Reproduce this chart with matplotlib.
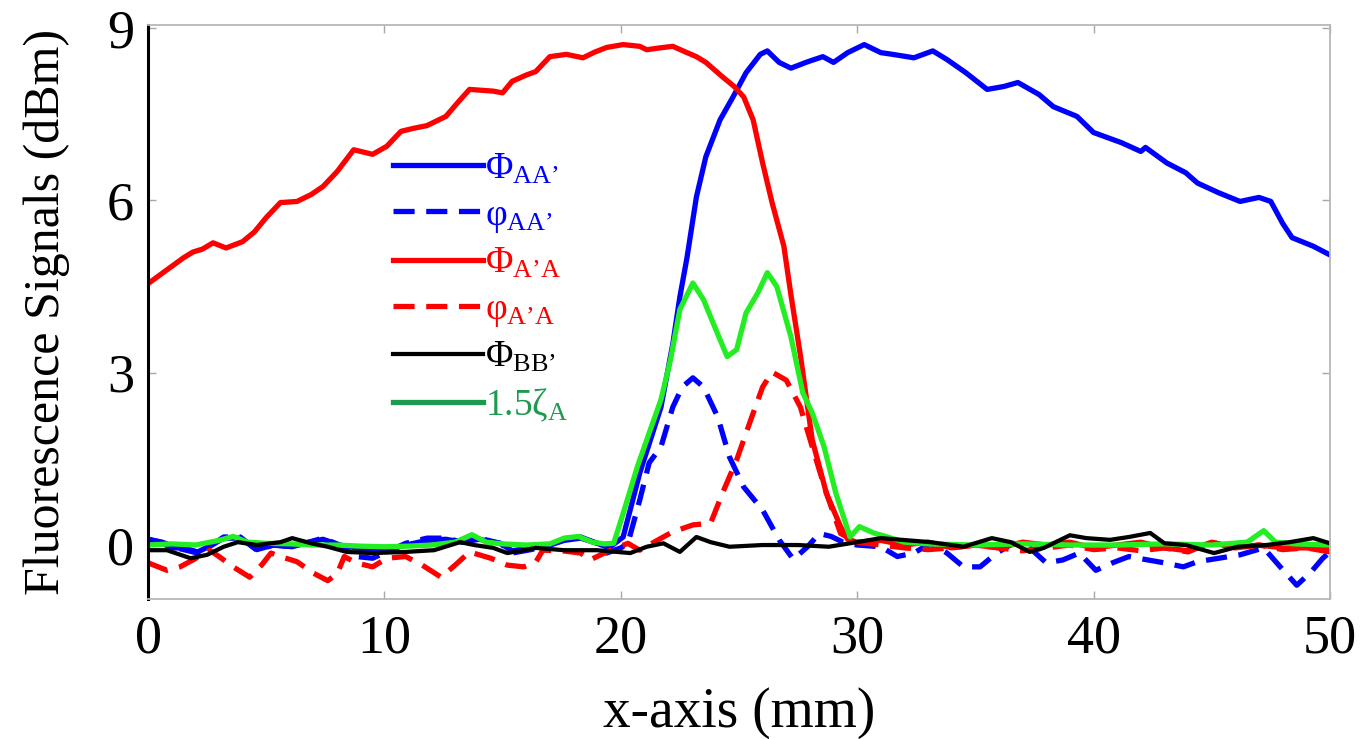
import matplotlib
matplotlib.use("Agg")
import matplotlib.pyplot as plt

plt.rcParams['font.family'] = 'Liberation Serif'
plt.rcParams['mathtext.fontset'] = 'custom'
plt.rcParams['mathtext.rm'] = 'Liberation Serif'
plt.rcParams['mathtext.it'] = 'Liberation Serif:italic'

# ---- data (x in mm, signals in dBm) ----
x_PhiAA = [0, 0.5, 1, 1.5, 2.1, 2.7, 3.2, 3.9, 4.6, 5.3, 6.1, 6.8, 7.4, 8.1, 8.8, 9.5,
           10.2, 10.9, 11.8, 12.6, 13.3, 14.0, 14.9, 15.4, 16.2, 17.0, 17.6, 18.3, 19.0,
           19.5, 20.1, 20.8, 21.7, 22.2, 22.5, 22.8, 23.2, 23.6, 24.2, 24.75, 25.3, 25.9,
           26.2, 26.7, 27.2, 27.9, 28.55, 29.0, 29.6, 30.3, 31.0, 31.5, 32.4, 33.2, 33.8,
           34.6, 35.5, 36.2, 36.8, 37.7, 38.3, 39.3, 40.0, 40.8, 41.2, 42.0, 42.2, 43.1,
           43.9, 44.4, 45.3, 46.2, 47.0, 47.5, 48.0, 48.4, 49.3, 50]
y_PhiAA = [0.1, 0.05, -0.05, -0.05, -0.12, 0.0, 0.12, 0.12, -0.08, 0.0, -0.03, 0.05, 0.1,
           0.0, -0.05, -0.1, -0.08, 0.0, 0.08, 0.1, 0.05, 0.1, 0.03, -0.1, -0.05, 0.0, 0.08,
           0.12, 0.03, -0.05, 0.14, 1.25, 2.4, 3.5, 4.32, 5.0, 6.06, 6.76, 7.4, 7.8, 8.22,
           8.54, 8.6, 8.4, 8.3, 8.41, 8.5, 8.4, 8.57, 8.71, 8.57, 8.54, 8.48, 8.6, 8.45,
           8.22, 7.93, 7.98, 8.05, 7.84, 7.63, 7.46, 7.18, 7.06, 7.0, 6.85, 6.92, 6.65,
           6.48, 6.3, 6.13, 5.98, 6.05, 5.98, 5.6, 5.35, 5.2, 5.05]

x_phiAA = [0, 0.6, 1.2, 2.1, 2.7, 3.2, 3.9, 4.6, 5.3, 6.1, 6.8, 7.4, 8.1, 8.8, 9.5, 10.2,
           10.9, 11.8, 12.6, 13.3, 14.0, 14.9, 15.4, 16.2, 17.0, 17.6, 18.3, 19.0, 19.4,
           20.0, 20.3, 20.8, 21.2, 21.7, 22.2, 22.6, 23.05, 23.5, 24.1, 24.6, 25.2, 26.0,
           26.7, 27.3, 27.9, 28.4, 28.9, 29.4, 30.0, 31.0, 31.7, 32.4, 33.1, 33.8, 34.5,
           35.2, 35.9, 36.6, 37.3, 38.0, 38.7, 39.4, 40.1, 40.8, 41.5, 42.3, 43.0, 43.8,
           44.4, 45.3, 46.2, 47.2, 47.9, 48.6, 49.2, 49.7, 50]
y_phiAA = [0.1, 0.05, -0.05, -0.14, 0.0, 0.14, 0.14, -0.09, 0.0, -0.03, 0.05, 0.12, 0.0,
           -0.2, -0.23, -0.1, 0.03, 0.12, 0.12, 0.05, 0.12, 0.03, -0.14, -0.08, 0.0, 0.09,
           0.14, 0.03, -0.14, -0.05, 0.03, 0.78, 1.43, 1.71, 2.4, 2.75, 2.91, 2.75, 2.23,
           1.53, 1.01, 0.61, 0.09, -0.25, -0.03, 0.2, 0.15, 0.05, 0.0, -0.03, -0.2, -0.14,
           0.03, -0.14, -0.38, -0.38, -0.14, 0.03, -0.05, -0.31, -0.26, -0.14, -0.44, -0.31,
           -0.2, -0.26, -0.31, -0.38, -0.29, -0.23, -0.17, -0.05, -0.38, -0.7, -0.47, -0.23,
           -0.12]

x_PhiA_A = [0, 0.5, 1.0, 1.5, 1.9, 2.3, 2.75, 3.3, 4.0, 4.5, 5.0, 5.6, 6.3, 6.9, 7.4, 8.0,
            8.7, 9.5, 10.1, 10.7, 11.2, 11.8, 12.6, 13.1, 13.6, 14.6, 15.0, 15.4, 16.0,
            16.4, 17.0, 17.7, 18.4, 18.9, 19.4, 20.1, 20.8, 21.1, 21.6, 22.2, 22.8, 23.2,
            23.6, 24.3, 24.8, 25.2, 25.6, 26.0, 26.4, 26.9, 27.2, 27.6, 28.1, 28.7, 29.3,
            29.6, 30, 31, 32, 33, 34, 35, 36, 37, 38, 39, 40, 41, 42, 43, 44, 45, 46, 47,
            48, 49, 50]
y_PhiA_A = [4.55, 4.7, 4.85, 5.0, 5.1, 5.15, 5.26, 5.17, 5.28, 5.45, 5.7, 5.96, 5.98, 6.1,
            6.24, 6.5, 6.88, 6.8, 6.94, 7.2, 7.25, 7.3, 7.46, 7.7, 7.93, 7.9, 7.87, 8.07,
            8.18, 8.24, 8.5, 8.54, 8.48, 8.58, 8.66, 8.71, 8.68, 8.62, 8.65, 8.68, 8.57,
            8.5, 8.4, 8.15, 7.98, 7.8, 7.4, 6.65, 5.96, 5.2, 4.35, 3.3, 1.83, 0.9, 0.32,
            0.1, 0.05, 0.08, 0.0, 0.05, -0.05, 0.0, -0.05, 0.05, 0.0, 0.05, -0.05, 0.0,
            0.05, -0.05, -0.1, 0.05, -0.05, 0.0, -0.05, -0.05, -0.08]

x_phiA_A = [0, 0.8, 1.35, 1.9, 2.6, 3.0, 3.6, 4.3, 4.8, 5.2, 5.6, 6.3, 7.0, 7.6, 8.0, 8.3,
            8.8, 9.5, 10.1, 10.9, 11.6, 12.4, 13.1, 13.6, 14.5, 15.2, 15.9, 16.4, 16.7,
            17.5, 18.3, 18.7, 19.5, 20.3, 20.8, 21.8, 22.2, 23.05, 23.8, 24.3, 24.9, 25.5,
            26.0, 26.4, 27.0, 27.6, 28.1, 28.7, 29.3, 30, 31, 32, 33, 34, 35, 36, 37, 38,
            39, 40, 41, 42, 43, 44, 45, 46, 47, 48, 49, 50]
y_phiA_A = [-0.31, -0.44, -0.38, -0.26, -0.09, -0.2, -0.38, -0.56, -0.35, -0.14, -0.2,
            -0.29, -0.49, -0.62, -0.5, -0.2, -0.31, -0.38, -0.23, -0.2, -0.35, -0.56, -0.31,
            -0.12, -0.23, -0.35, -0.38, -0.3, -0.09, -0.1, -0.14, -0.26, -0.1, 0.03, -0.09,
            0.14, 0.23, 0.35, 0.38, 0.9, 1.48, 2.18, 2.75, 3.01, 2.87, 2.4, 1.71, 0.9, 0.2,
            0.05, 0.0, -0.05, -0.08, -0.05, 0.0, -0.05, -0.1, -0.05, 0.0, -0.08, -0.05,
            -0.1, -0.05, -0.12, 0.05, -0.05, 0.0, -0.08, -0.05, -0.12]

x_PhiBB = [0.1, 0.8, 1.8, 2.5, 3.2, 3.8, 4.6, 5.6, 6.1, 6.9, 7.6, 8.4, 9.5, 10.9, 12.1,
           13.2, 13.8, 14.6, 15.2, 15.9, 16.4, 17.6, 19.0, 20.4, 21.1, 21.8, 22.5, 23.2,
           23.8, 24.6, 26.0, 27.5, 28.8, 30.0, 31.0, 33.1, 34.5, 35.7, 36.5, 37.3, 37.9,
           39.0, 39.7, 40.7, 41.5, 42.4, 43.0, 43.9, 45.1, 46.1, 47.3, 48.3, 49.3, 50]
y_PhiBB = [-0.09, -0.09, -0.23, -0.17, -0.03, 0.05, 0.0, 0.05, 0.12, 0.03, -0.03, -0.12,
           -0.14, -0.12, -0.09, 0.05, 0.0, -0.05, -0.14, -0.09, -0.05, -0.09, -0.09, -0.14,
           -0.03, 0.03, -0.12, 0.14, 0.05, -0.03, 0.0, 0.0, -0.03, 0.05, 0.12, 0.05, -0.03,
           0.12, 0.05, -0.12, -0.05, 0.17, 0.12, 0.09, 0.14, 0.21, 0.03, 0.0, -0.14, -0.03,
           0.0, 0.05, 0.12, 0.03]

x_zeta = [0, 1, 2, 3, 3.6, 4.2, 5, 6, 7, 8, 9, 10, 11, 12, 13, 13.7, 14.3, 15, 16, 17,
          17.6, 18.2, 18.8, 19.3, 19.7, 20.1, 20.7, 21.2, 21.7, 22.1, 22.5, 23.05, 23.5,
          23.9, 24.5, 24.9, 25.3, 25.8, 26.2, 26.6, 27.2, 27.7, 28.1, 28.6, 29.1, 29.7,
          30.1, 30.7, 31.2, 32, 33, 35, 37, 39, 41, 43, 45, 46.5, 47.2, 47.7, 48.5, 50]
y_zeta = [0.0, 0.02, 0.0, 0.08, 0.15, 0.05, 0.03, 0.02, 0.0, 0.0, -0.02, -0.03, -0.02,
          0.0, 0.05, 0.18, 0.05, 0.02, 0.0, 0.02, 0.12, 0.15, 0.05, 0.02, 0.03, 0.55, 1.36,
          1.95, 2.53, 3.22, 4.1, 4.56, 4.27, 3.87, 3.28, 3.4, 4.04, 4.39, 4.74, 4.5, 3.62,
          2.65, 2.3, 1.71, 0.9, 0.14, 0.32, 0.21, 0.15, 0.05, 0.02, 0.0, 0.02, 0.0, 0.0,
          0.02, 0.0, 0.05, 0.25, 0.05, 0.02, 0.0]

labels = ['Φ$_{\\mathrm{AA’}}$', 'φ$_{\\mathrm{AA’}}$', 'Φ$_{\\mathrm{A’A}}$',
          'φ$_{\\mathrm{A’A}}$', 'Φ$_{\\mathrm{BB’}}$', '1.5ζ$_{\\mathrm{A}}$']

BLUE = '#0000ff'
RED = '#ff0000'
GREEN = '#22ee22'
LW = 3.8
DASH = (4, 2.2)

fig = plt.figure(figsize=(13.71, 7.39), dpi=100)
ax = fig.add_axes([0.108, 0.1894, 0.862, 0.7767])

l1, = ax.plot(x_PhiAA, y_PhiAA, color=BLUE, lw=LW, zorder=2.0)
l2, = ax.plot(x_phiAA, y_phiAA, color=BLUE, lw=LW, dashes=DASH, zorder=2.1)
l3, = ax.plot(x_PhiA_A, y_PhiA_A, color=RED, lw=LW, zorder=2.2)
l4, = ax.plot(x_phiA_A, y_phiA_A, color=RED, lw=LW, dashes=DASH, zorder=2.3)
l6, = ax.plot(x_zeta, y_zeta, color=GREEN, lw=LW, zorder=2.4)
l5, = ax.plot(x_PhiBB, y_PhiBB, color='black', lw=LW * 0.8, zorder=2.5)

ax.set_xlim(0, 50)
ax.set_ylim(-0.94, 9.05)
ax.set_xticks([0, 10, 20, 30, 40, 50])
ax.set_yticks([0, 3, 6, 9])

for side in ['top', 'right', 'bottom']:
    ax.spines[side].set_color('#b8b8b8')
    ax.spines[side].set_linewidth(1.3)
ax.spines['left'].set_color('black')
ax.spines['left'].set_linewidth(2.2)
ax.tick_params(direction='in', length=6, width=1, color='#a8a8a8',
               top=True, right=True, labelsize=39)
ax.tick_params(axis='x', pad=11)
ax.tick_params(axis='y', pad=10)

ax.set_xlabel('x-axis (mm)', fontsize=40, labelpad=16)
ax.set_ylabel('Fluorescence Signals (dBm)', fontsize=36, labelpad=27)

leg = ax.legend([l1, l2, l3, l4, l5, l6], labels, loc='upper left',
                bbox_to_anchor=(0.207, 0.779), frameon=False, fontsize=27,
                handlelength=2.4, handletextpad=0.05, labelspacing=0.31,
                borderpad=0, borderaxespad=0)
text_colors = [BLUE, BLUE, RED, RED, 'black', '#1e9a50']
for t, c in zip(leg.get_texts(), text_colors):
    t.set_color(c)
leg.get_lines()[5].set_color('#1e9a50')

fig.savefig('out.png', dpi=100)
